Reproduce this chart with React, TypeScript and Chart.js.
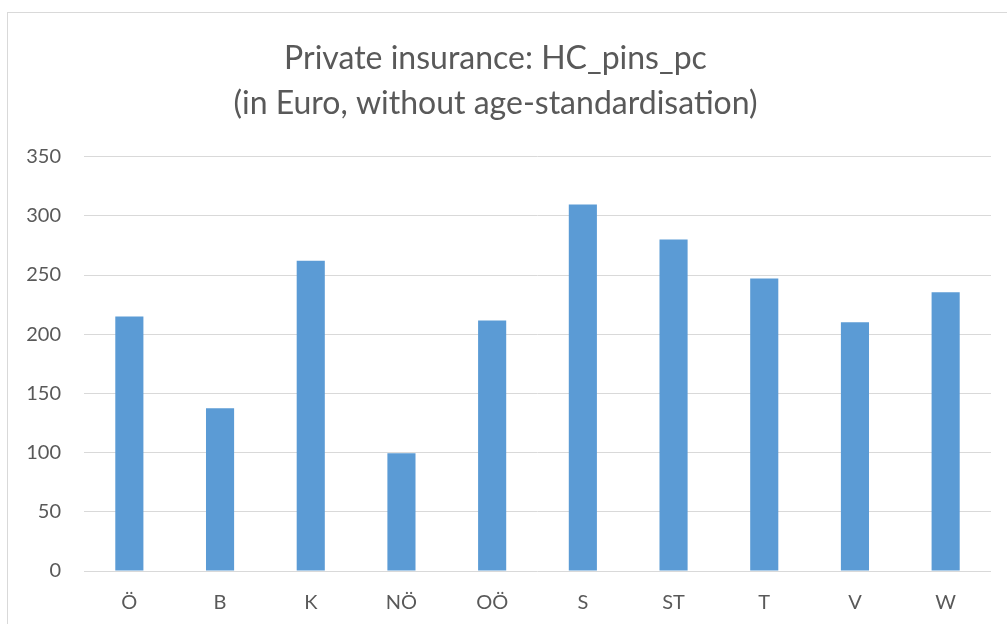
import React, { useEffect, useRef } from "react";
import { Chart, registerables } from "chart.js";

Chart.register(...registerables);

const categories = ["Ö", "B", "K", "NÖ", "OÖ", "S", "ST", "T", "V", "W"];
const values = [215, 137.5, 262, 99.5, 211.5, 309.5, 280, 247, 210, 235.5];
const titleLines = ["Private insurance: HC_pins_pc", "(in Euro, without age-standardisation)"];

export default function App() {
  const ref = useRef<HTMLCanvasElement | null>(null);
  useEffect(() => {
    if (!ref.current) return;
    const chart = new Chart(ref.current, {
      type: "bar",
      data: {
        labels: categories,
        datasets: [
          {
            data: values,
            backgroundColor: "#5B9BD5",
            borderWidth: 0,
            categoryPercentage: 1,
            barPercentage: 0.31,
          },
        ],
      },
      options: {
        animation: false,
        responsive: false,
        maintainAspectRatio: false,
        layout: { padding: { left: 0, right: 16, top: 0, bottom: 0 } },
        plugins: {
          legend: { display: false },
          tooltip: { enabled: false },
          title: {
            display: true,
            text: titleLines,
            color: "#595959",
            font: { family: "Lato", size: 32, weight: "normal", lineHeight: 1.4 },
            padding: { top: 36, bottom: 31 },
          },
        },
        scales: {
          x: {
            grid: { display: false },
            border: { display: false },
            ticks: {
              color: "#595959",
              font: { family: "Lato", size: 20 },
              padding: 12,
            },
            afterFit: (s: any) => {
              s.height = 53;
            },
          },
          y: {
            min: 0,
            max: 350,
            ticks: {
              stepSize: 50,
              color: "#595959",
              font: { family: "Lato", size: 20 },
              padding: 23,
            },
            grid: { color: "#d9d9d9", lineWidth: 1, drawTicks: false },
            border: { display: false },
            afterFit: (s: any) => {
              s.width = 84;
            },
          },
        },
      },
    });
    return () => chart.destroy();
  }, []);
  return (
    <div style={{ position: "absolute", left: 0, top: 0, width: 1007, height: 624, background: "#fff", overflow: "hidden" }}>
      <div
        style={{
          position: "absolute",
          left: 7,
          top: 12,
          width: 1100,
          height: 700,
          borderLeft: "1px solid #d9d9d9",
          borderTop: "1px solid #d9d9d9",
        }}
      />
      <canvas ref={ref} width={1007} height={624} style={{ position: "absolute", left: 0, top: 0 }} />
    </div>
  );
}
